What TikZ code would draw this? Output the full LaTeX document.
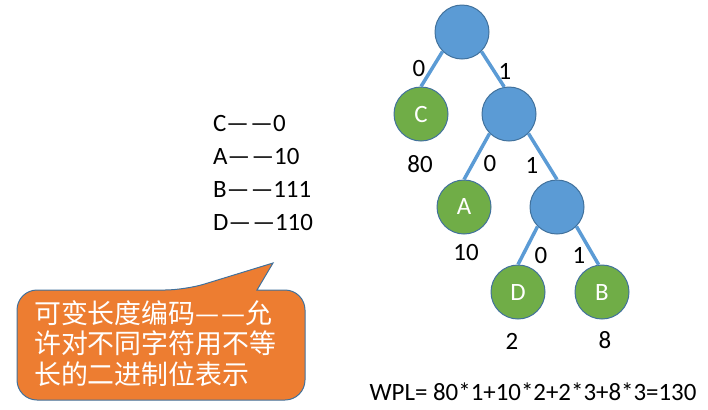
\documentclass[tikz,border=0pt]{standalone}
\usepackage{fontspec}
\setmainfont{Carlito}
\newfontfamily\cjk{Noto Sans CJK SC}
\usetikzlibrary{positioning}
\definecolor{nodeblue}{HTML}{5B9BD5}
\definecolor{leafgreen}{HTML}{70AD47}
\definecolor{rimblue}{HTML}{41719C}
\definecolor{noteorange}{HTML}{ED7D31}
\newcommand{\dashpair}{—\kern0.06em—}
\tikzstyle{inner} = [circle, minimum size=54bp, draw=rimblue, line width=1bp, fill=nodeblue]
\tikzstyle{leaf} = [circle, minimum size=54bp, draw=rimblue, line width=1bp, fill=leafgreen, text=white, font=\fontsize{25}{25}\selectfont]
\tikzstyle{branch} = [draw=nodeblue, line width=3.5bp]
\tikzstyle{digit} = [font=\fontsize{25}{25}\selectfont, inner sep=0pt]
\tikzstyle{note} = [fill=noteorange, draw=rimblue, line width=1bp]

\begin{document}
\begin{tikzpicture}[x=1bp, y=-1bp]
\useasboundingbox (0,0) rectangle (708,409);
% tree
\node (root) [inner] at (462,32) {};
\node (c) [leaf] at (421,114) {C};
\node (n1) [inner] at (509,114) {};
\node (a) [leaf] at (464,207) {A};
\node (n2) [inner] at (557,207) {};
\node (d) [leaf] at (518,292) {D};
\node (b) [leaf] at (602,292) {B};
\draw [branch] (root.-135) -- (c.north);
\draw [branch] (root.-45) -- (n1.100);
\draw [branch] (n1.-135) -- (a.north);
\draw [branch] (n1.-45) -- (n2.north);
\draw [branch] (n2.-135) -- (d.north);
\draw [branch] (n2.-45) -- (b.97);
% bits and weights
\node (b0) [digit] at (419,68) {0};
\node (b1) [digit] at (505,71) {1};
\node (b10) [digit] at (490,163) {0};
\node (b11) [digit] at (532,165) {1};
\node (b110) [digit] at (541,255) {0};
\node (b111) [digit] at (579,255) {1};
\node (wc) [digit] at (420,164) {80};
\node (wa) [digit] at (466,252) {10};
\node (wd) [digit] at (512,341) {2};
\node (wb) [digit] at (605,340) {8};
% codes
\node (codes) [digit, anchor=north west, align=left, font=\fontsize{25}{33}\selectfont] at (213,115) {C\dashpair{}0\\A\dashpair{}10\\B\dashpair{}111\\D\dashpair{}110};
% callout
\draw [note, rounded corners=20bp] (185,290) [sharp corners] -- (273,263) -- (257,290) [rounded corners=20bp] -- (305,290) -- (305,400) -- (17,400) -- (17,290) -- cycle;
\node (notetext) [anchor=north west, align=left, text=white, inner sep=0pt, font=\cjk\fontsize{27}{31}\selectfont] at (34,300) {可变长度编码\dashpair{}允\\许对不同字符用不等\\长的二进制位表示};
% sum
\node (wpl) [digit] at (533,392) {WPL= 80*1+10*2+2*3+8*3=130};
\end{tikzpicture}
\end{document}
